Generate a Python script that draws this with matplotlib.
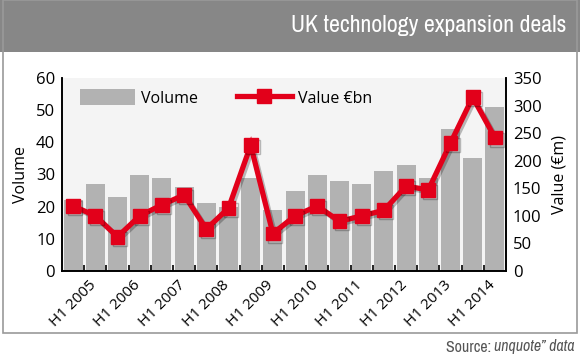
import numpy as np
import matplotlib
matplotlib.use("Agg")
import matplotlib.pyplot as plt
from matplotlib.patches import Rectangle
from matplotlib.lines import Line2D
import matplotlib.patheffects as pe

# --- Data ---
periods = [f"H{h} {y}" for y in range(2005, 2015) for h in (1, 2)]
volume = [22, 27, 23, 30, 29, 26, 21, 20, 29, 19,
          25, 30, 28, 27, 31, 33, 29, 44, 35, 51]
value_em = [118, 100, 62, 100, 120, 138, 76, 114, 228, 68,
            100, 118, 90, 100, 110, 154, 147, 232, 315, 242]

RED = "#e2001a"
BAR = "#b2b2b2"
BODY_FONT = ["Open Sans", "DejaVu Sans"]
COND_FONT = ["Archivo Narrow", "DejaVu Sans"]
plt.rcParams["font.family"] = BODY_FONT

W, H = 580, 358
fig = plt.figure(figsize=(W / 100, H / 100), dpi=100)
fig.patch.set_facecolor("white")

# header band and outer frame
fig.add_artist(Rectangle((0, 1 - 52 / H), 1, 52 / H, transform=fig.transFigure,
                         facecolor="#878787", edgecolor="none", zorder=0))
fig.add_artist(Rectangle((2.5 / W, 1 - 333 / H), 574.5 / W, 333 / H,
                         transform=fig.transFigure, facecolor="none",
                         edgecolor="#9a9a9a", lw=1.2, zorder=5))
fig.text(566 / W, 1 - 25 / H, "UK technology expansion deals", ha="right",
         va="center", color="white", fontsize=17.2, family=COND_FONT)

ax = fig.add_axes([62 / W, 1 - 271 / H, 444 / W, 193 / H])
ax.set_facecolor("#f4f4f4")
x = np.arange(len(periods))
ax.bar(x, volume, width=0.86, color=BAR, zorder=2)
ax.set_xlim(-0.5, len(periods) - 0.5)
ax.set_ylim(0, 60)
ax.set_yticks(range(0, 61, 10))

ax2 = ax.twinx()
ax2.plot(x, value_em, color=RED, lw=3.8, marker="s", markersize=10,
         zorder=3, solid_joinstyle="miter",
         path_effects=[pe.SimpleLineShadow(offset=(1.5, -1.5), shadow_color="#000000",
                                           alpha=0.25), pe.Normal()])
ax2.set_ylim(0, 350)
ax2.set_yticks(range(0, 351, 50))

for a in (ax, ax2):
    a.spines["top"].set_visible(False)
    for s in ("left", "right", "bottom"):
        a.spines[s].set_linewidth(1.2)
        a.spines[s].set_color("black")
    a.tick_params(axis="y", length=0, pad=5, labelsize=12)

# x ticks: labels at H1 periods, small inward marks between bars
ax.set_xticks(x[::2])
ax.set_xticklabels(periods[::2], rotation=45, ha="center", va="top", fontsize=11)
ax.set_xticks(np.arange(0.5, len(periods) - 1, 1), minor=True)
ax.tick_params(axis="x", which="major", length=0, pad=5)
ax.tick_params(axis="x", which="minor", direction="in", length=4, width=1.2)

ax.set_ylabel("Volume", fontsize=11.5, labelpad=5)
ax2.set_ylabel("Value (€m)", fontsize=11.5, labelpad=7)

handles = [Rectangle((0, 0), 1, 1, facecolor=BAR),
           Line2D([], [], color=RED, lw=3.8, marker="s", markersize=10)]
ax2.legend(handles, ["Volume", "Value €bn"], loc="upper left", ncol=2,
           frameon=False, bbox_to_anchor=(0.026, 0.975), borderaxespad=0,
           handlelength=3.45, handleheight=1.15, columnspacing=2.4,
           handletextpad=0.4, prop={"size": 11.5})

src = fig.text(575 / W, 1 - 347 / H, "unquote\u201d data", ha="right", va="center",
               color="#555555", fontsize=11.5, family=COND_FONT, style="italic")
ax.annotate("Source: ", xy=(0, 0.5), xycoords=src, ha="right", va="center",
            color="#555555", fontsize=11.5, family=COND_FONT,
            annotation_clip=False)

fig.savefig("out.png", dpi=100)
